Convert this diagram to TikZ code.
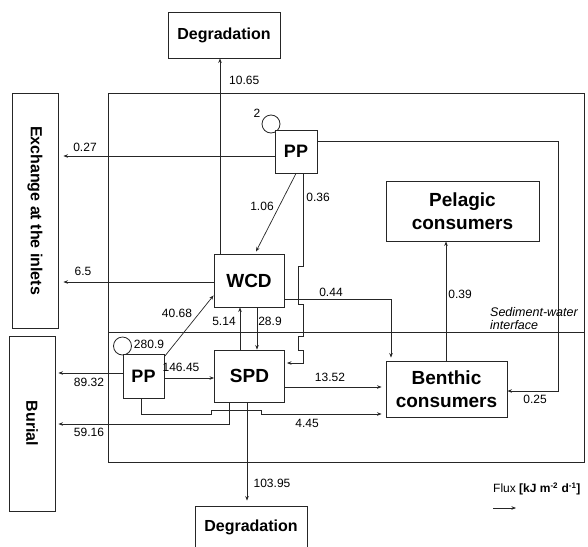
\documentclass[tikz,border=0pt]{standalone}
\usepackage{fontspec}
\setmainfont{Liberation Sans}
\usetikzlibrary{arrows.meta}
\begin{document}
\begin{tikzpicture}[x=1pt,y=-1pt]
\tikzset{
  boxnode/.style={draw=black!85, fill=white, line width=0.9pt, inner sep=0pt, align=center, font=\bfseries\fontsize{16}{18}\selectfont},
  bigbox/.style={boxnode, font=\bfseries\fontsize{19}{23}\selectfont},
  ppbox/.style={boxnode, font=\bfseries\fontsize{18}{20}\selectfont},
  pool/.style={circle, draw=black!85, line width=0.8pt, minimum size=18pt, inner sep=0pt},
  flow/.style={draw=black!85, line width=0.7pt, -{Stealth[length=4.5pt,width=3.5pt]}},
  wire/.style={draw=black!85, line width=0.9pt},
  num/.style={inner sep=0pt, font=\fontsize{12}{14}\selectfont},
}
\useasboundingbox (0,0) rectangle (588,546);

% frame and interface
\draw[wire] (108,93) rectangle (584,462);
\draw[wire] (108,332) -- (584,332);

% boxes
\node[boxnode, minimum width=112pt, minimum height=46pt] (degT) at (224,35) {Degradation};
\node[boxnode, rotate=-90, minimum width=235pt, minimum height=46pt] (exch) at (35,210.5) {Exchange at the inlets};
\node[boxnode, rotate=-90, minimum width=175pt, minimum height=46pt] (bur) at (32,423.5) {Burial};
\node[pool] (circT) at (271,124) {};
\node[ppbox, minimum width=42pt, minimum height=43pt] (ppT) at (296,151.5) {PP};
\node[num] (lab2) at (257,113) {2};
\node[bigbox, minimum width=70pt, minimum height=53pt] (wcd) at (249,280.5) {WCD};
\node[bigbox, minimum width=70pt, minimum height=52pt] (spd) at (249.5,376) {SPD};
\node[pool] (circB) at (122.5,346) {};
\node[ppbox, minimum width=41pt, minimum height=44pt] (ppB) at (143.5,376) {PP};
\node[num] (lab280) at (149,344) {280.9};
\node[bigbox, minimum width=153pt, minimum height=60pt] (pel) at (462.5,211) {Pelagic\\consumers};
\node[bigbox, minimum width=121pt, minimum height=56pt] (ben) at (446.5,389) {Benthic\\consumers};
\node[boxnode, minimum width=112pt, minimum height=42pt] (degB) at (251,527) {Degradation};

% helper coordinates
\coordinate (xa) at (220,0);
\coordinate (ya) at (0,156);
\coordinate (yb) at (0,141);
\coordinate (xb) at (558,0);
\coordinate (yc) at (0,391);
\coordinate (yd) at (0,282);
\coordinate (xc) at (240,0);
\coordinate (xd) at (257,0);
\coordinate (ye) at (0,299);
\coordinate (xe) at (391,0);
\coordinate (xf) at (446,0);
\coordinate (yf) at (0,373);
\coordinate (yg) at (0,378);
\coordinate (xg) at (229,0);
\coordinate (yh) at (0,424);
\coordinate (xh) at (141,0);
\coordinate (yi) at (0,414);
\coordinate (yj) at (0,387);
\coordinate (xi) at (247,0);
\coordinate (xj) at (303,0);
\coordinate (yk) at (0,363);

% fluxes
\draw[flow] (xa |- wcd.north) -- (xa |- degT.south);
\node[num, anchor=west] at (229,80) {10.65};

\draw[flow, shorten >=5pt] (ppT.west |- ya) -- (exch.north |- ya);
\node[num] at (85,147) {0.27};

\draw[flow] (ppT.south) -- ([xshift=7pt,yshift=2pt]wcd.north);
\node[num] at (262,206) {1.06};

\draw[flow] (xj |- ppT.south) -- (303,266) -- (298,266) -- (298,304) -- (303,304)
  -- (303,336) -- (298,336) -- (298,350) -- (303,350) -- (xj |- yk) -- ([xshift=2pt]spd.east |- yk);
\node[num] at (318,197) {0.36};

\draw[flow] (ppT.east |- yb) -- (xb |- yb) -- (xb |- yc) -- (ben.east |- yc);
\node[num] at (535,399) {0.25};

\draw[flow, shorten >=5pt] (wcd.west |- yd) -- (exch.north |- yd);
\node[num] at (83,271) {6.5};

\draw[flow] ([yshift=-3pt]ppB.north east) -- ([yshift=12pt]wcd.south west);
\node[num] at (177,313) {40.68};

\draw[flow] (xc |- spd.north) -- (xc |- wcd.south);
\node[num] at (224,321) {5.14};

\draw[flow] (xd |- wcd.south) -- (xd |- spd.north);
\node[num] at (270,321) {28.9};

\draw[flow, shorten >=3pt] (wcd.east |- ye) -- (xe |- ye) -- (xe |- ben.north);
\node[num] at (331,292) {0.44};

\draw[flow] (xf |- ben.north) -- (xf |- pel.south);
\node[num] at (460,294) {0.39};

\draw[flow, shorten >=3pt] (ppB.west |- yf) -- (bur.north |- yf);
\node[num] at (89,382) {89.32};

\draw[flow] (ppB.east |- yg) -- (spd.west |- yg);
\node[num] at (181,367) {146.45};

\draw[flow, shorten >=3pt] (xg |- spd.south) -- (xg |- yh) -- (bur.north |- yh);
\node[num] at (89,432) {59.16};

\draw[flow, shorten >=4pt] (xh |- ppB.south) -- (xh |- yi) -- (211,414) -- (211,410) -- (261,410) -- (261,414) -- (ben.west |- yi);
\node[num] at (307,423) {4.45};

\draw[flow, shorten >=4pt] (spd.east |- yj) -- (ben.west |- yj);
\node[num] at (330,377) {13.52};

\draw[flow, shorten >=5pt] (xi |- spd.south) -- (xi |- degB.north);
\node[num] at (272,483) {103.95};

% interface label
\node[anchor=west, inner sep=0pt, align=left, font=\itshape\fontsize{12.5}{13}\selectfont] (sed) at (490,318.5) {Sediment-water\\interface};

% legend
\node[anchor=west, inner sep=0pt, font=\fontsize{12}{14}\selectfont] (flux) at (493,489) {Flux \textbf{[kJ m\textsuperscript{-2} d\textsuperscript{-1}]}};
\coordinate (la) at (493,508);
\coordinate (lb) at (516,508);
\draw[flow] (la) -- (lb);
\end{tikzpicture}
\end{document}
